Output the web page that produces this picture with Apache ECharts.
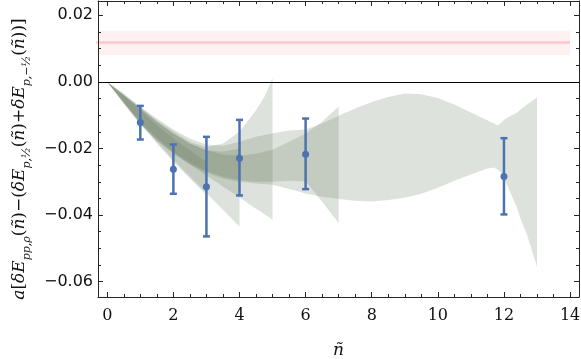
<!DOCTYPE html>
<html>
<head>
<meta charset="utf-8">
<script src="https://cdn.jsdelivr.net/npm/echarts@6/dist/echarts.min.js"></script>
<style>
  html, body { margin: 0; padding: 0; background: #fff; }
  #chart { width: 581px; height: 359px; }
</style>
</head>
<body>
<div id="chart"></div>
<script>
// axis ranges and ticks
const xMin = -0.28, xMax = 14.27;
const yMin = -0.0646, yMax = 0.0243;
const xMajorTicks = [0, 2, 4, 6, 8, 10, 12, 14];
const xMinorTicks = [0.5, 1, 1.5, 2.5, 3, 3.5, 4.5, 5, 5.5, 6.5, 7, 7.5, 8.5, 9, 9.5, 10.5, 11, 11.5, 12.5, 13, 13.5];
const yMajorTicks = [-0.06, -0.04, -0.02, 0, 0.02];
const yMinorTicks = [-0.055, -0.05, -0.045, -0.035, -0.03, -0.025, -0.015, -0.01, -0.005, 0.005, 0.01, 0.015];

// lattice points with error bars
const nLattice = [1, 2, 3, 4, 6, 12];
const deltaE = [-0.0122, -0.0262, -0.0315, -0.0229, -0.0217, -0.0284];
const deltaEHigh = [-0.0072, -0.0188, -0.0165, -0.0114, -0.0110, -0.0169];
const deltaELow = [-0.0173, -0.0336, -0.0464, -0.0341, -0.0322, -0.0398];

// pink reference line + band
const refX = [-1, 14];
const refValue = 0.0118;
const refHigh = 0.0154;
const refLow = 0.0081;

// green fit bands (n, lower, upper)
const band3N  = [0, 0.5, 1, 1.5, 2, 2.5, 3];
const band3Lo = [0, -0.006, -0.0125, -0.0185, -0.024, -0.029, -0.034];
const band3Hi = [0, -0.004, -0.0085, -0.013, -0.017, -0.0205, -0.024];

const band4N  = [0, 0.5, 1, 1.5, 2, 2.5, 3, 3.5, 4];
const band4Lo = [0, -0.0065, -0.0125, -0.018, -0.0234, -0.0284, -0.0334, -0.0384, -0.0434];
const band4Hi = [0, -0.004, -0.008, -0.012, -0.0155, -0.0185, -0.0205, -0.021, -0.020];

const band5N  = [0, 0.5, 1, 1.5, 2, 2.5, 3, 3.5, 4, 4.5, 4.75, 5];
const band5Lo = [0, -0.0065, -0.0125, -0.0175, -0.0214, -0.0247, -0.0281, -0.0314, -0.0347, -0.0381, -0.0397, -0.0414];
const band5Hi = [0, -0.0038, -0.0075, -0.0115, -0.0148, -0.018, -0.0196, -0.0185, -0.015, -0.0085, -0.0045, 0.0011];

const band7N  = [0, 0.5, 1, 1.5, 2, 2.5, 3, 3.5, 4, 4.5, 5, 5.5, 6, 6.5, 7];
const band7Lo = [0, -0.006, -0.012, -0.0168, -0.021, -0.0243, -0.0268, -0.0285, -0.0295, -0.03, -0.03, -0.0297, -0.0298, -0.036, -0.0424];
const band7Hi = [0, -0.004, -0.008, -0.012, -0.0155, -0.0185, -0.0205, -0.0218, -0.0222, -0.0216, -0.0204, -0.018, -0.0155, -0.012, -0.0074];

const band13N  = [0, 0.5, 1, 1.5, 2, 2.5, 3, 3.5, 4, 4.5, 5, 5.5, 6, 6.5, 7, 7.5, 8, 8.5, 9, 9.5, 10, 10.5, 11, 11.5, 11.7, 11.8, 11.9, 12, 12.1, 12.4, 12.5, 12.7, 13];
const band13Lo = [0, -0.0065, -0.0128, -0.0175, -0.0215, -0.0248, -0.0272, -0.029, -0.03, -0.0305, -0.0309, -0.0322, -0.0335, -0.0345, -0.0352, -0.0357, -0.0359, -0.0355, -0.0348, -0.0336, -0.0318, -0.0297, -0.0278, -0.026, -0.0257, -0.0262, -0.0272, -0.029, -0.031, -0.038, -0.041, -0.046, -0.0556];
const band13Hi = [0, -0.0035, -0.0075, -0.011, -0.0143, -0.017, -0.0188, -0.0192, -0.018, -0.0165, -0.0154, -0.0146, -0.0143, -0.0125, -0.0102, -0.008, -0.006, -0.0045, -0.0035, -0.0037, -0.0048, -0.0068, -0.0092, -0.0115, -0.0125, -0.0131, -0.0124, -0.0114, -0.0108, -0.0092, -0.0083, -0.0068, -0.0047];

const blue = '#4c72b0';
const frame = '#262626';

function bandSeries(ns, lo, hi, fill, z) {
  return {
    type: 'custom',
    silent: true,
    clip: true,
    z: z,
    data: [[ns[0], lo[0]]],
    renderItem: function (params, api) {
      const pts = [];
      for (let i = 0; i < ns.length; i++) pts.push(api.coord([ns[i], hi[i]]));
      for (let i = ns.length - 1; i >= 0; i--) pts.push(api.coord([ns[i], lo[i]]));
      return { type: 'polygon', shape: { points: pts }, style: { fill: fill } };
    }
  };
}

function xAxisDef(pos, ticks, len, main) {
  return {
    type: 'value', position: pos, min: xMin, max: xMax,
    axisLine: { show: main, onZero: false, lineStyle: { color: frame, width: 1 } },
    axisTick: { show: true, inside: true, length: len, customValues: ticks, lineStyle: { color: frame } },
    axisLabel: { show: main && pos === 'bottom', customValues: ticks, fontFamily: 'DejaVu Serif', fontSize: 16, color: '#111', margin: 11 },
    splitLine: { show: false }
  };
}

function yAxisDef(pos, ticks, len, main) {
  return {
    type: 'value', position: pos, min: yMin, max: yMax,
    axisLine: { show: main, onZero: false, lineStyle: { color: frame, width: 1 } },
    axisTick: { show: true, inside: true, length: len, customValues: ticks, lineStyle: { color: frame } },
    axisLabel: {
      show: main && pos === 'left', customValues: ticks, fontFamily: 'DejaVu Sans', fontSize: 16, color: '#111', margin: 5,
      formatter: function (v) {
        const s = Math.abs(v).toFixed(2);
        return v < -1e-9 ? '\u2212' + s : s;
      }
    },
    splitLine: { show: false }
  };
}

const chart = echarts.init(document.getElementById('chart'));

const xAxes = [
  xAxisDef('bottom', xMajorTicks, 5, true),
  xAxisDef('bottom', xMinorTicks, 3, false),
  xAxisDef('top', xMajorTicks, 5, true),
  xAxisDef('top', xMinorTicks, 3, false)
];
xAxes[0].name = '\u00f1';
xAxes[0].nameLocation = 'middle';
xAxes[0].nameGap = 45;
xAxes[0].nameTextStyle = { fontFamily: 'DejaVu Serif', fontStyle: 'italic', fontSize: 17, color: '#111' };

const yAxes = [
  yAxisDef('left', yMajorTicks, 5, true),
  yAxisDef('left', yMinorTicks, 3, false),
  yAxisDef('right', yMajorTicks, 5, true),
  yAxisDef('right', yMinorTicks, 3, false)
];
yAxes[0].name = '{i|a}{n|[}{i|\u03b4E}{s|pp,\u03c1}{n|(}{i|\u00f1}{n|)\u2212(}{i|\u03b4E}{s|p,\u00bd}{n|(}{i|\u00f1}{n|)+}{i|\u03b4E}{s|p,\u2212\u00bd}{n|(}{i|\u00f1}{n|))]}';
yAxes[0].nameLocation = 'middle';
yAxes[0].nameGap = 55;
yAxes[0].nameRotate = 90;
yAxes[0].nameTextStyle = {
  color: '#111',
  padding: [0, 20, 0, 0],
  rich: {
    i: { fontFamily: 'DejaVu Serif', fontStyle: 'italic', fontSize: 17, lineHeight: 26, color: '#111' },
    n: { fontFamily: 'DejaVu Serif', fontSize: 17, lineHeight: 26, color: '#111' },
    s: { fontFamily: 'DejaVu Serif', fontStyle: 'italic', fontSize: 11, lineHeight: 12, verticalAlign: 'bottom', color: '#111' }
  }
};

const fitFill = 'rgba(90,110,80,0.2)';

chart.setOption({
  animation: false,
  grid: { left: 98, right: 2, top: 1, bottom: 62, containLabel: false, outerBoundsMode: 'none' },
  xAxis: xAxes,
  yAxis: yAxes,
  series: [
    // pink band
    {
      type: 'custom', silent: true, clip: true, z: 1,
      data: [[refX[0], refLow]],
      renderItem: function (params, api) {
        const a = api.coord([refX[0], refHigh]);
        const b = api.coord([refX[1], refLow]);
        return { type: 'rect', shape: { x: a[0], y: a[1], width: b[0] - a[0], height: b[1] - a[1] }, style: { fill: 'rgba(255,0,0,0.055)' } };
      }
    },
    {
      type: 'line', silent: true, clip: true, z: 1, symbol: 'none',
      data: refX.map(function (x) { return [x, refValue]; }),
      lineStyle: { color: 'rgba(255,0,20,0.18)', width: 2.5 }
    },
    bandSeries(band3N, band3Lo, band3Hi, fitFill, 2),
    bandSeries(band4N, band4Lo, band4Hi, fitFill, 2),
    bandSeries(band5N, band5Lo, band5Hi, fitFill, 2),
    bandSeries(band7N, band7Lo, band7Hi, fitFill, 2),
    bandSeries(band13N, band13Lo, band13Hi, fitFill, 2),
    // zero line
    {
      type: 'line', silent: true, z: 3, symbol: 'none', data: [],
      markLine: {
        silent: true, symbol: 'none', label: { show: false },
        lineStyle: { color: '#000', width: 1.2, type: 'solid' },
        data: [{ yAxis: 0 }]
      }
    },
    // error bars
    {
      type: 'custom', z: 5,
      data: nLattice.map(function (n, i) { return [n, deltaELow[i], deltaEHigh[i]]; }),
      renderItem: function (params, api) {
        const lo = api.coord([api.value(0), api.value(1)]);
        const hi = api.coord([api.value(0), api.value(2)]);
        const w = 3.5;
        const st = { stroke: blue, lineWidth: 2.5 };
        return {
          type: 'group',
          children: [
            { type: 'line', shape: { x1: lo[0], y1: lo[1], x2: hi[0], y2: hi[1] }, style: st },
            { type: 'line', shape: { x1: lo[0] - w, y1: lo[1], x2: lo[0] + w, y2: lo[1] }, style: st },
            { type: 'line', shape: { x1: hi[0] - w, y1: hi[1], x2: hi[0] + w, y2: hi[1] }, style: st }
          ]
        };
      }
    },
    {
      type: 'scatter', z: 6, symbol: 'circle', symbolSize: 7,
      itemStyle: { color: blue, opacity: 1 },
      data: nLattice.map(function (n, i) { return [n, deltaE[i]]; })
    }
  ]
});
</script>
</body>
</html>
